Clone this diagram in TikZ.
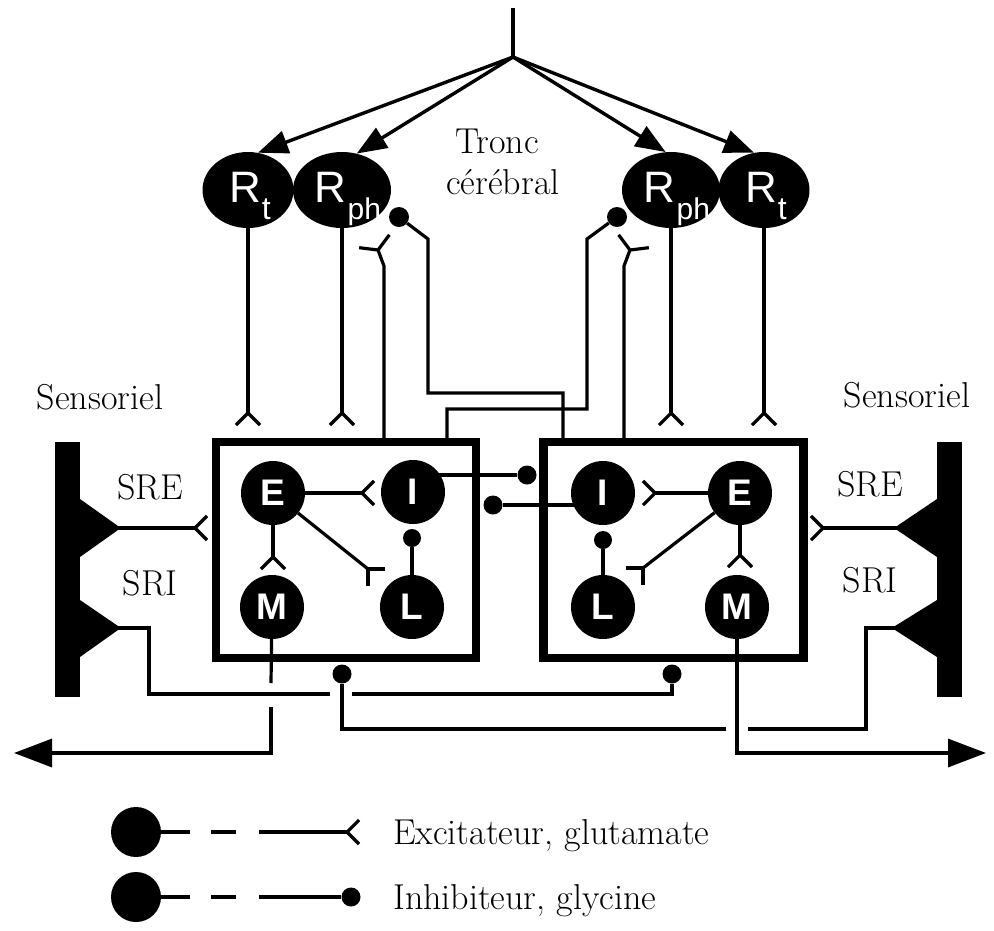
\documentclass[tikz,border=0pt]{standalone}
\usepackage{fontspec}
\newfontfamily\neufont{Liberation Sans}
\usetikzlibrary{arrows.meta,shapes.geometric,calc}
\pgfdeclarelayer{wires}
\pgfsetlayers{wires,main}
\tikzset{
  wire/.style={line width=3.2pt},
  toparrow/.style={line width=3.4pt,-{Triangle[length=30pt,width=23pt]}},
  outarrow/.style={line width=3.2pt,-{Triangle[length=38pt,width=28pt]}},
  neuron/.style={circle,fill=black,minimum size=64pt,inner sep=0pt,text=white,
    font=\neufont\bfseries\fontsize{37}{37}\selectfont},
  rnode/.style={ellipse,fill=black,minimum height=76pt,inner sep=0pt},
  rtext/.style={anchor=base,inner sep=0pt,text=white,font=\neufont\fontsize{44}{44}\selectfont},
  inh/.style={circle,fill=black,minimum size=18pt,inner sep=0pt},
  bigdot/.style={circle,fill=black,minimum size=50pt,inner sep=0pt},
  cell/.style={draw,line width=8.5pt,minimum width=260pt,minimum height=216pt,inner sep=0pt},
  txt/.style={font=\fontsize{36}{40}\selectfont,anchor=base,inner sep=0pt},
  pics/exc/.style={code={\draw[wire,line join=round] (#1+45:17) -- (0,0) -- (#1-45:17);}},
  pics/excw/.style={code={\draw[wire,line join=round] (#1+60:19) -- (0,0) -- (#1-60:19);}},
}
\newcommand\subph{\raisebox{-17pt}{\fontsize{30}{30}\selectfont ph}}
\newcommand\subt{\raisebox{-17pt}{\fontsize{32}{32}\selectfont t}}
\begin{document}
\begin{tikzpicture}[x=1pt,y=-1pt]
\useasboundingbox (0,0) rectangle (994,930);

% ---------- brainstem: reticular neurons ----------
\coordinate (top) at (513,8);
\coordinate (apex) at (513,57);
\node[rnode,minimum width=91pt] (RtL)  at (248,190) {};
\node[rnode,minimum width=98pt] (RphL) at (342,190) {};
\node[rnode,minimum width=98pt] (RphR) at (671,190) {};
\node[rnode,minimum width=91pt] (RtR)  at (764,190) {};
\node[rtext] (RtLlab)  at (250,202) {R\kern1pt\subt};
\node[rtext] (RphLlab) at (348,202) {R\kern1pt\subph};
\node[rtext] (RphRlab) at (677,202) {R\kern1pt\subph};
\node[rtext] (RtRlab)  at (766,202) {R\kern1pt\subt};
\node[txt] (tronc) at (497,153) {Tronc};
\node[txt] (cereb) at (503,194) {cérébral};

\node[inh,minimum size=20pt] (dRL) at (399,217) {};
\node[inh,minimum size=20pt] (dRR) at (617,217) {};

% ---------- the two half-centre boxes ----------
\node[cell] (LB) at (346,550) {};
\node[cell] (RB) at (673.5,550) {};

\node[neuron] (LE) at (273,493) {E};
\node[neuron] (LI) at (413,492) {I};
\node[neuron] (LM) at (272,607) {M};
\node[neuron] (LL) at (412,607) {L};

\node[neuron] (RI) at (603,493) {I};
\node[neuron] (RE) at (740,493) {E};
\node[neuron] (RL) at (603,607) {L};
\node[neuron] (RM) at (737,607) {M};

\node[inh] (dLLI) at (412,538) {};
\node[inh] (dRLI) at (603,540) {};
\node[inh,minimum size=19pt] (dLII) at (527,475) {};
\node[inh,minimum size=19pt] (dRII) at (493,505) {};
\node[inh,minimum size=19pt] (dBL) at (342,674) {};
\node[inh,minimum size=19pt] (dBR) at (672,674) {};

% ---------- sensory afferents ----------
\fill (55,442) rectangle (80,697);
\fill (80,499) -- (118,526) -- (118,530) -- (80,557) -- cycle;
\fill (80,600) -- (118,626) -- (118,630) -- (80,657) -- cycle;
\fill (937,442) rectangle (962,697);
\fill (937,499) -- (897,526) -- (897,530) -- (937,557) -- cycle;
\fill (937,600) -- (895,626) -- (895,630) -- (937,657) -- cycle;
\coordinate (sreL) at (118,528);
\coordinate (sriL) at (118,628);
\coordinate (sreR) at (897,528);
\coordinate (sriR) at (895,628);

\node[txt] (sensL) at (100,409) {Sensoriel};
\node[txt] (sensR) at (907,407) {Sensoriel};
\node[txt] (SREL) at (150,499) {SRE};
\node[txt] (SRIL) at (150,595) {SRI};
\node[txt] (SRER) at (870,496) {SRE};
\node[txt] (SRIR) at (870,592) {SRI};

% ---------- motor outputs ----------
\coordinate (outL) at (14,753);
\coordinate (outR) at (986,753);

% ---------- legend ----------
\node[bigdot] (lg1) at (136,832) {};
\node[bigdot] (lg2) at (136,897) {};
\node[inh,minimum size=19pt] (lgd) at (351,897) {};
\node[txt,anchor=base west] (lt1) at (393,844) {Excitateur, glutamate};
\node[txt,anchor=base west] (lt2) at (393,909) {Inhibiteur, glycine};

\begin{pgfonlayer}{wires}
  % descending drive from above
  \draw[wire] (top) -- (apex);
  \draw[toparrow] (apex) -- (RtL.75);
  \draw[toparrow] (apex) -- (RphL.68);
  \draw[toparrow] (apex) -- (RphR.98);
  \draw[toparrow] (apex) -- (RtR.105);

  % reticular outputs onto the boxes
  \draw[wire] (RtL) -- (248,413) pic {exc=90};
  \draw[wire] (RphL) -- (342,413) pic {exc=90};
  \draw[wire] (RphR) -- (671,413) pic {exc=90};
  \draw[wire] (RtR) -- (764,413) pic {exc=90};

  % feedback from the boxes to the Rph neurons
  \draw[wire,line join=round] (384,0 |- LB.north) -- (384,266) -- (378,250) pic {excw=247};
  \draw[wire,line join=round] (624,0 |- RB.north) -- (624,266) -- (630,250) pic {excw=293};
  \draw[wire] (dRL) -- (428,239) -- (428,393) -| (563,0 |- RB.north);
  \draw[wire] (dRR) -- (587,239) -- (587,409) -| (447,0 |- LB.north);

  % left box
  \draw[wire] (LE) -- (362,493) pic {exc=0};
  \draw[wire] (LE) -- (273,557) pic {exc=90};
  \draw[wire] (LE) -- (368,569) pic {exc=45};
  \draw[wire] (LL) -- (dLLI);
  \draw[wire] (dLII) -- (dLII -| LI);

  % right box
  \draw[wire] (RE) -- (655,493) pic {exc=180};
  \draw[wire] (RE) -- (740,555) pic {exc=90};
  \draw[wire] (RE) -- (643,568) pic {exc=135};
  \draw[wire] (RL) -- (dRLI);
  \draw[wire] (dRII) -- (dRII -| RI);

  % sensory lines
  \draw[wire] (sreL) -- (195,528) pic {exc=0};
  \draw[wire] (sreR) -- (823,528) pic {exc=180};
  \draw[wire] (sriL) -- ++(31,0) |- (330,694) (352,694) -| (dBR);
  \draw[wire] (sriR) -- ++(-29,0) |- (748,729) (726,729) -| (dBL);

  % motor outputs
  \draw[wire] (LM) -- (271,683);
  \draw[outarrow] (271,707) |- (outL);
  \draw[outarrow] (RM) |- (outR);

  % legend
  \draw[wire] (lg1) -- (190,832) (211,832) -- (236,832) (259,832) -- (347,832) pic {exc=0};
  \draw[wire] (lg2) -- (190,897) (211,897) -- (236,897) (259,897) -- (lgd);
\end{pgfonlayer}
\end{tikzpicture}
\end{document}
